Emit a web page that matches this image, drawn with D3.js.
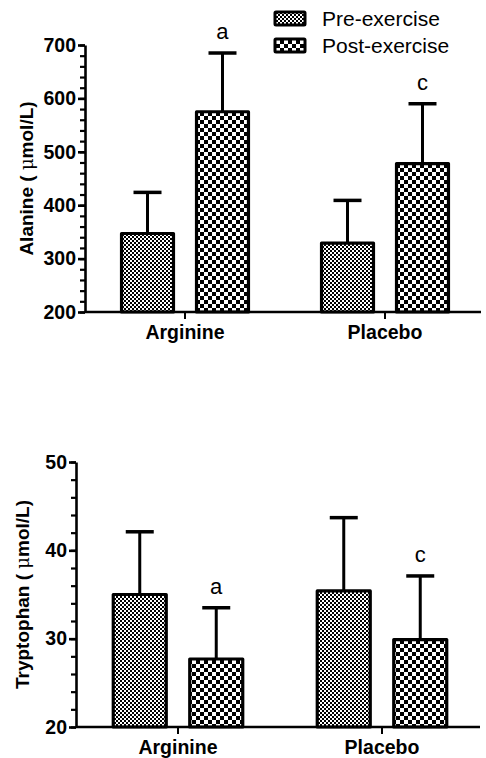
<!DOCTYPE html>
<html><head><meta charset="utf-8">
<script src="https://cdn.jsdelivr.net/npm/d3@7"></script>
<style>
html,body{margin:0;padding:0;background:#fff;}
svg{display:block;}
</style></head>
<body>
<svg id="chart" width="486" height="758"></svg>
<script>
// ---------- data ----------
const groups = ["Arginine", "Placebo"];
const seriesNames = ["Pre-exercise", "Post-exercise"];

const alaninePre = [347, 329];
const alaninePreSD = [77, 80];
const alaninePost = [575, 478];
const alaninePostSD = [110, 112];
const alanineLetters = ["a", "c"];
const alanineTicks = [200, 300, 400, 500, 600, 700];

const tryptophanPre = [35.0, 35.4];
const tryptophanPreSD = [7.1, 8.3];
const tryptophanPost = [27.7, 29.9];
const tryptophanPostSD = [5.8, 7.2];
const tryptophanLetters = ["a", "c"];
const tryptophanTicks = [20, 30, 40, 50];

// ---------- drawing ----------
const svg = d3.select("#chart");
const defs = svg.append("defs");

// fine checker (pre)
const pf = defs.append("pattern").attr("id", "pFine").attr("patternUnits", "userSpaceOnUse")
  .attr("width", 4).attr("height", 4);
pf.append("rect").attr("width", 4).attr("height", 4).attr("fill", "#fff");
pf.append("rect").attr("width", 2).attr("height", 2).attr("fill", "#000");
pf.append("rect").attr("x", 2).attr("y", 2).attr("width", 2).attr("height", 2).attr("fill", "#000");

// coarse checker (post)
const pc = defs.append("pattern").attr("id", "pCoarse").attr("patternUnits", "userSpaceOnUse")
  .attr("width", 8).attr("height", 8);
pc.append("rect").attr("width", 8).attr("height", 8).attr("fill", "#fff");
pc.append("rect").attr("width", 4).attr("height", 4).attr("fill", "#000");
pc.append("rect").attr("x", 4).attr("y", 4).attr("width", 4).attr("height", 4).attr("fill", "#000");

const fills = ["url(#pFine)", "url(#pCoarse)"];
const FONT = "'Liberation Sans', Arial, Helvetica, sans-serif";

function panel(cfg) {
  const x = d3.scaleBand().domain(groups).range(cfg.xRange).padding(0);
  const y = d3.scaleLinear().domain(cfg.yDomain).range(cfg.yRange);
  const sub = d3.scaleBand().domain(seriesNames).range([0, x.bandwidth()])
    .paddingInner(0.307).paddingOuter(0.487);
  const g = svg.append("g");

  const data = [];
  groups.forEach((grp, i) => {
    data.push({grp, s: seriesNames[0], v: cfg.pre[i], sd: cfg.preSD[i], k: 0, letter: null});
    data.push({grp, s: seriesNames[1], v: cfg.post[i], sd: cfg.postSD[i], k: 1, letter: cfg.letters[i]});
  });

  // error bars (upper only)
  const eb = g.append("g");
  data.forEach(d => {
    const cx = x(d.grp) + sub(d.s) + sub.bandwidth() / 2;
    eb.append("line").attr("x1", cx).attr("x2", cx).attr("y1", y(d.v)).attr("y2", y(d.v + d.sd))
      .attr("stroke", "#000").attr("stroke-width", 3);
    eb.append("line").attr("x1", cx - 14).attr("x2", cx + 14).attr("y1", y(d.v + d.sd)).attr("y2", y(d.v + d.sd))
      .attr("stroke", "#000").attr("stroke-width", 3.5);
    if (d.letter) {
      g.append("text").attr("x", cx).attr("y", y(d.v + d.sd) - 14)
        .attr("text-anchor", "middle").attr("font-family", FONT).attr("font-size", 22)
        .text(d.letter);
    }
  });

  // bars
  g.append("g").selectAll("rect").data(data).join("rect")
    .attr("x", d => x(d.grp) + sub(d.s))
    .attr("width", sub.bandwidth())
    .attr("y", d => y(d.v))
    .attr("height", d => y(cfg.yDomain[0]) - y(d.v))
    .attr("fill", d => fills[d.k])
    .attr("stroke", "#000").attr("stroke-width", 3.2)
    .attr("stroke-linejoin", "round");

  // y axis minor ticks
  const [y0, y1] = cfg.yDomain;
  const minor = d3.range(y0, y1 + 1e-9, cfg.minorStep);
  const yMinor = g.append("g").attr("transform", `translate(${cfg.xRange[0]},0)`)
    .call(d3.axisLeft(y).tickValues(minor).tickSize(5).tickFormat(""));
  yMinor.select(".domain").remove();
  yMinor.selectAll("line").attr("stroke-width", 2.2);

  // y axis major
  const yAx = g.append("g").attr("transform", `translate(${cfg.xRange[0]},0)`)
    .call(d3.axisLeft(y).tickValues(cfg.ticks).tickSize(7).tickPadding(2).tickSizeOuter(0));
  yAx.select(".domain").attr("stroke-width", 2.6);
  yAx.selectAll(".tick line").attr("stroke-width", 2.6);
  yAx.selectAll("text").attr("font-family", FONT).attr("font-weight", "bold")
    .attr("font-size", 19.5).attr("fill", "#000");

  // x axis
  const xAx = g.append("g").attr("transform", `translate(0,${cfg.yRange[0]})`)
    .call(d3.axisBottom(x).tickSize(7).tickSizeOuter(0).tickPadding(6));
  xAx.select(".domain").attr("stroke-width", 2.6)
    .attr("d", `M${cfg.xRange[0]},0H${cfg.xRange[1] - 4}`);
  xAx.selectAll(".tick line").attr("stroke-width", 2);
  xAx.selectAll("text").attr("font-family", FONT).attr("font-weight", "bold")
    .attr("font-size", 19.5).attr("fill", "#000");

  // y title
  const t = g.append("text")
    .attr("transform", `translate(${cfg.titleX},${(cfg.yRange[0] + cfg.yRange[1]) / 2}) rotate(-90)`)
    .attr("text-anchor", "middle").attr("font-family", FONT).attr("font-weight", "bold")
    .attr("font-size", 19);
  t.append("tspan").text(cfg.title + " ( ");
  t.append("tspan").attr("font-family", "'DejaVu Serif', serif").attr("font-weight", "normal")
    .attr("font-size", 18).text("\u03bc");
  t.append("tspan").text("mol/L)");
}

panel({
  xRange: [85, 485], yDomain: [200, 700], yRange: [312, 45],
  pre: alaninePre, preSD: alaninePreSD, post: alaninePost, postSD: alaninePostSD,
  letters: alanineLetters, ticks: alanineTicks, minorStep: 20,
  title: "Alanine", titleX: 33
});

panel({
  xRange: [76, 484], yDomain: [20, 50], yRange: [727, 462],
  pre: tryptophanPre, preSD: tryptophanPreSD, post: tryptophanPost, postSD: tryptophanPostSD,
  letters: tryptophanLetters, ticks: tryptophanTicks, minorStep: 2,
  title: "Tryptophan", titleX: 29
});

// legend
const leg = svg.append("g");
seriesNames.forEach((s, i) => {
  const yy = 12 + i * 27;
  leg.append("rect").attr("x", 275).attr("y", yy).attr("width", 30).attr("height", 13)
    .attr("fill", fills[i]).attr("stroke", "#000").attr("stroke-width", 3).attr("rx", 1);
  leg.append("text").attr("x", 322).attr("y", yy + 14)
    .attr("font-family", FONT).attr("font-size", 21).text(s);
});
</script>
</body></html>
